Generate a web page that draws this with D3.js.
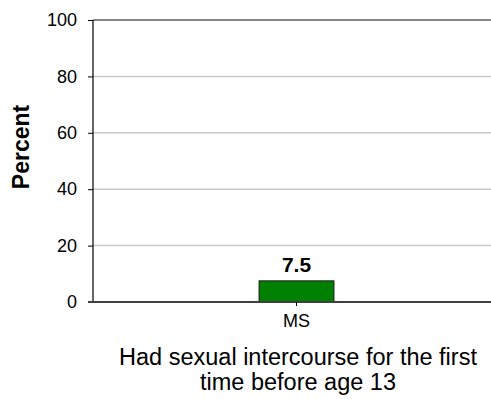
<!DOCTYPE html>
<html>
<head>
<meta charset="utf-8">
<script src="https://cdn.jsdelivr.net/npm/d3@7"></script>
<style>
  html, body { margin: 0; padding: 0; background: #fff; }
  svg { display: block; font-family: Arial, "Liberation Sans", sans-serif; }
</style>
</head>
<body>
<svg id="chart" width="491" height="399"></svg>
<script>
const categories = ["MS"];
const values = [7.5];
const valueLabels = ["7.5"];
const yTicks = [0, 20, 40, 60, 80, 100];
const yTitle = "Percent";
const xTitleLines = ["Had sexual intercourse for the first", "time before age 13"];

const svg = d3.select("#chart");
const plotL = 93, plotR = 500, plotT = 20, plotB = 302;

const y = d3.scaleLinear().domain([0, 100]).range([plotB, plotT]);
const x = d3.scaleBand().domain(categories).range([plotL, plotR]).padding(0);
const barW = x.bandwidth() * 0.184;

// gridlines
svg.append("g").selectAll("line")
  .data(yTicks.filter(t => t !== 0))
  .join("line")
  .attr("x1", plotL).attr("x2", plotR)
  .attr("y1", d => y(d)).attr("y2", d => y(d))
  .attr("stroke", d => d === 100 ? "#858585" : "#c8c8c8")
  .attr("stroke-width", d => d === 100 ? 2 : 1.5);

// y axis
const yAxis = d3.axisLeft(y).tickValues(yTicks).tickSize(5).tickPadding(11).tickFormat(d3.format("d"));
const gy = svg.append("g").attr("transform", `translate(${plotL},0)`).call(yAxis);
gy.select(".domain").attr("stroke", "#000").attr("stroke-width", 1.2).attr("d", `M0,${plotT}V${plotB}`);
gy.selectAll(".tick line").attr("stroke", "#000");
gy.selectAll(".tick text").attr("font-size", 18).attr("fill", "#000")
  .attr("font-family", "Arial, 'Liberation Sans', sans-serif");

// bars
svg.append("g").selectAll("rect")
  .data(values)
  .join("rect")
  .attr("x", (d, i) => x(categories[i]) + x.bandwidth() / 2 - barW / 2)
  .attr("width", barW)
  .attr("y", d => y(d))
  .attr("height", d => y(0) - y(d))
  .attr("fill", "#008000")
  .attr("stroke", "#1a1a1a")
  .attr("stroke-width", 1);

// x axis baseline + ticks
const xAxis = d3.axisBottom(x).tickSize(4).tickPadding(8);
const gx = svg.append("g").attr("transform", `translate(0,${plotB})`).call(xAxis);
gx.select(".domain").attr("stroke", "#404040").attr("stroke-width", 2).attr("d", `M${plotL - 5},0H${plotR}`);
gx.selectAll(".tick line").attr("stroke", "#000");
gx.selectAll(".tick text").attr("font-size", 18).attr("fill", "#000")
  .attr("font-family", "Arial, 'Liberation Sans', sans-serif");

// value labels
svg.append("g").selectAll("text")
  .data(values)
  .join("text")
  .attr("x", (d, i) => x(categories[i]) + x.bandwidth() / 2)
  .attr("y", d => y(d) - 8.5)
  .attr("text-anchor", "middle")
  .attr("font-size", 21)
  .attr("font-weight", "bold")
  .text((d, i) => valueLabels[i]);

// y title
svg.append("text")
  .attr("transform", "translate(29,147) rotate(-90)")
  .attr("text-anchor", "middle")
  .attr("font-size", 23)
  .attr("font-weight", "bold")
  .text(yTitle);

// x title
svg.append("g").selectAll("text")
  .data(xTitleLines)
  .join("text")
  .attr("x", 298)
  .attr("y", (d, i) => 365 + i * 25)
  .attr("text-anchor", "middle")
  .attr("font-size", 23.5)
  .text(d => d);
</script>
</body>
</html>
